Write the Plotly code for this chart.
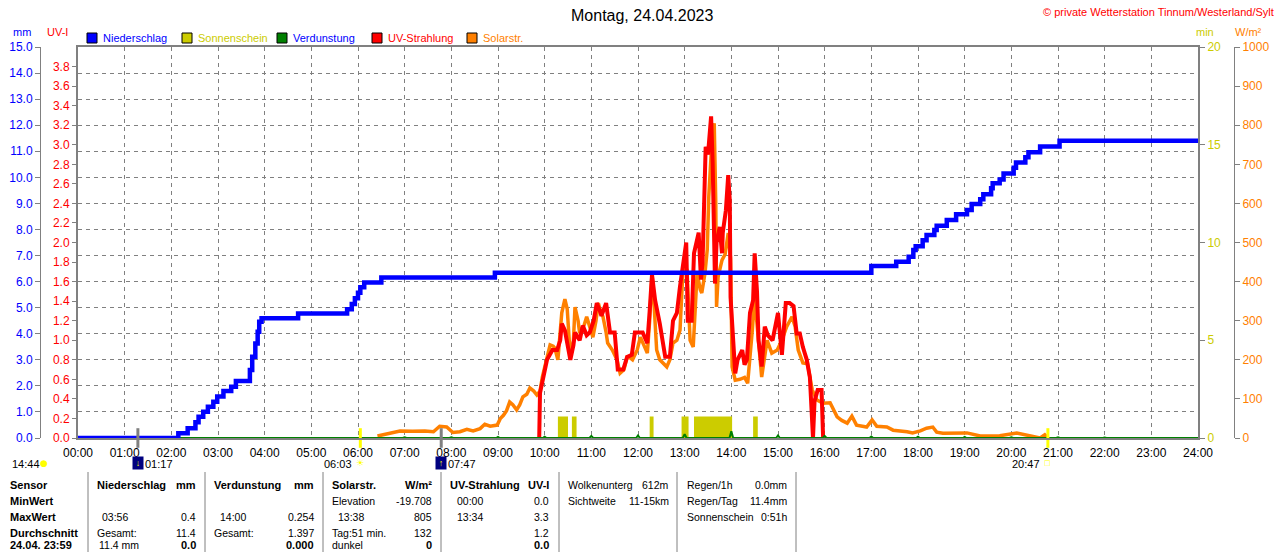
import plotly.graph_objects as go

W, H = 1280, 552


def hrs(t):
    h, m = t.split(":")
    return int(h) + int(m) / 60.0


def px(x):
    return x / W


def py(y):
    return (H - y) / H


# ---------------- data ----------------
# Niederschlag (cumulative, mm)
rain_times = ["00:00", "02:09", "02:21", "02:31", "02:35", "02:41", "02:47", "02:54", "02:59",
              "03:07", "03:17", "03:23", "03:41", "03:44", "03:48", "03:51", "03:53", "03:56",
              "04:43", "05:46", "05:52", "05:56", "06:00", "06:03", "06:08", "06:30", "08:56",
              "17:00", "17:32", "17:48", "17:54", "17:57", "18:06", "18:11", "18:21", "18:24",
              "18:37", "18:49", "19:03", "19:09", "19:20", "19:24", "19:34", "19:36", "19:45",
              "19:50", "20:03", "20:06", "20:18", "20:22", "20:37", "21:02", "24:00"]
rain_mm = [0.0, 0.18, 0.37, 0.6, 0.82, 1.01, 1.2, 1.39, 1.59,
           1.8, 1.97, 2.19, 2.61, 3.12, 3.63, 4.08, 4.46, 4.59,
           4.78, 4.94, 5.14, 5.36, 5.57, 5.78, 5.97, 6.16, 6.34,
           6.6, 6.76, 6.95, 7.21, 7.36, 7.59, 7.79, 7.98, 8.14,
           8.36, 8.58, 8.75, 8.98, 9.16, 9.35, 9.58, 9.77, 9.92,
           10.15, 10.37, 10.57, 10.77, 10.96, 11.18, 11.4, 11.4]

# Sonnenschein (minutes per interval)
sun_start = ["10:17", "10:35", "12:15", "12:56", "13:12", "14:28"]
sun_end = ["10:30", "10:41", "12:20", "13:05", "14:01", "14:34"]
sun_min = [1.1, 1.1, 1.1, 1.1, 1.1, 1.1]

# Verdunstung (mm per hour)
evap_hour = list(range(0, 25))
evap_mm = [0.0, 0.02, 0.02, 0.02, 0.02, 0.02, 0.02, 0.03, 0.03, 0.04, 0.05, 0.08, 0.1,
           0.15, 0.254, 0.1, 0.08, 0.06, 0.05, 0.04, 0.03, 0.03, 0.02, 0.02, 0.02]

# UV-Strahlung (UV-I)
uv_times = ["09:53", "09:54", "09:58", "10:03", "10:10", "10:16", "10:20", "10:22", "10:26", "10:30",
            "10:33", "10:37", "10:39", "10:45", "10:49", "10:54", "10:58", "11:03", "11:07", "11:11",
            "11:13", "11:19", "11:24", "11:30", "11:34", "11:41", "11:46", "11:52", "11:56", "12:06",
            "12:12", "12:15", "12:18", "12:22", "12:28", "12:35", "12:41", "12:45", "12:50", "12:54",
            "12:58", "13:02", "13:04", "13:09", "13:12", "13:16", "13:18", "13:21", "13:23", "13:27",
            "13:30", "13:34", "13:35", "13:36", "13:39", "13:41", "13:45", "13:48", "13:49", "13:53",
            "13:56", "13:58", "13:59", "14:02", "14:05", "14:08", "14:14", "14:17", "14:20", "14:24",
            "14:28", "14:30", "14:33", "14:35", "14:39", "14:43", "14:47", "14:53", "15:00", "15:05",
            "15:10", "15:15", "15:20", "15:24", "15:28", "15:32", "15:37", "15:41", "15:45", "15:47",
            "15:51", "15:56", "15:58"]
uv_values = [0.0, 0.46, 0.61, 0.8, 0.9, 0.9, 1.0, 1.17, 1.1, 0.95,
             0.8, 0.95, 1.08, 1.0, 1.15, 1.05, 1.08, 1.2, 1.38, 1.3,
             1.25, 1.38, 1.08, 1.08, 0.7, 0.7, 0.83, 0.85, 1.08, 1.08,
             0.97, 1.3, 1.67, 1.41, 1.17, 0.83, 0.83, 1.2, 1.28, 1.55,
             1.79, 2.0, 1.2, 1.2, 1.89, 2.06, 2.1, 1.62, 1.8, 2.98,
             2.9, 3.29, 3.05, 2.81, 1.58, 2.0, 2.16, 1.89, 2.1, 2.33,
             2.69, 2.43, 1.44, 1.0, 0.66, 0.8, 0.9, 0.75, 0.8, 1.28,
             1.41, 1.89, 1.5, 1.0, 0.73, 1.14, 1.05, 1.0, 1.28, 0.85,
             1.38, 1.38, 1.35, 1.07, 1.07, 0.93, 0.8, 0.62, 0.0, 0.38,
             0.49, 0.49, 0.0]

# Solarstrahlung (W/m²)
solar_times = ["06:25", "06:41", "06:54", "07:10", "07:26", "07:37", "07:45", "07:54", "08:02", "08:11",
               "08:20", "08:28", "08:37", "08:43", "08:50", "08:59", "09:03", "09:07", "09:11", "09:15",
               "09:19", "09:24", "09:28", "09:32", "09:37", "09:41", "09:46", "09:50", "09:54", "09:57",
               "10:00", "10:03", "10:07", "10:11", "10:13", "10:17", "10:20", "10:22", "10:26", "10:29",
               "10:33", "10:37", "10:39", "10:43", "10:45", "10:51", "10:54", "10:58", "11:02", "11:06",
               "11:09", "11:11", "11:15", "11:19", "11:21", "11:27", "11:33", "11:37", "11:42", "11:46",
               "11:50", "11:53", "11:59", "12:03", "12:08", "12:12", "12:15", "12:18", "12:21", "12:24",
               "12:28", "12:32", "12:37", "12:41", "12:45", "12:50", "12:54", "12:58", "13:03", "13:07",
               "13:11", "13:16", "13:20", "13:22", "13:26", "13:29", "13:31", "13:35", "13:38", "13:40",
               "13:41", "13:43", "13:48", "13:52", "13:56", "13:59", "14:01", "14:05", "14:11", "14:17",
               "14:21", "14:27", "14:30", "14:34", "14:39", "14:46", "14:52", "14:59", "15:05", "15:11",
               "15:18", "15:22", "15:26", "15:32", "15:38", "15:44", "15:50", "15:58", "16:07", "16:16",
               "16:22", "16:29", "16:35", "16:41", "16:54", "17:01", "17:07", "17:20", "17:28", "17:46",
               "17:53", "18:03", "18:11", "18:19", "18:24", "18:32", "19:03", "19:20", "19:45", "20:07",
               "20:24", "20:37", "20:43", "20:47"]
solar_values = [5, 12, 18, 17, 18, 16, 30, 28, 14, 16,
                22, 18, 24, 35, 30, 33, 50, 58, 70, 92,
                85, 72, 85, 105, 112, 128, 120, 110, 120, 156,
                180, 207, 238, 235, 230, 200, 260, 320, 355, 330,
                207, 250, 335, 300, 268, 290, 310, 280, 258, 300,
                345, 330, 310, 270, 243, 225, 200, 166, 175, 207,
                205, 200, 225, 258, 235, 217, 300, 422, 330, 225,
                200, 192, 182, 200, 243, 250, 276, 437, 430, 250,
                233, 422, 380, 371, 420, 481, 617, 760, 805, 600,
                335, 412, 455, 470, 524, 460, 182, 148, 150, 155,
                140, 276, 361, 268, 156, 250, 217, 225, 250, 284,
                310, 285, 225, 192, 190, 123, 97, 89, 90, 54,
                45, 38, 56, 33, 28, 46, 30, 28, 20, 16,
                13, 18, 25, 28, 15, 12, 13, 5, 6, 13,
                5, 0, 8, 0]

# Sun / moon events
sun_events = ["06:03", "20:47"]
moon_events = ["01:17", "07:47"]

hour_ticks = list(range(0, 25))
hour_labels = ["%02d:00" % h for h in hour_ticks]
mm_ticks = list(range(0, 16))
uv_ticks = [i / 5 for i in range(0, 20)]
min_ticks = [0, 5, 10, 15, 20]
wm_ticks = list(range(0, 1001, 100))

# ---------------- colours / fonts ----------------
C_BLUE = "#0000ff"
C_SUN = "#cccc00"
C_GREEN = "#008000"
C_RED = "#ff0000"
C_ORANGE = "#ff8000"
C_GRID = "#808080"
FONT = "Liberation Sans, Arial, sans-serif"

fig = go.Figure()

# Sonnenschein bars (main axis y = min)
s0 = [hrs(t) for t in sun_start]
s1 = [hrs(t) for t in sun_end]
fig.add_trace(go.Bar(x=[(a + b) / 2 for a, b in zip(s0, s1)], y=sun_min,
                     width=[b - a for a, b in zip(s0, s1)],
                     marker=dict(color=C_SUN, line=dict(width=0)),
                     xaxis="x", yaxis="y", showlegend=False, hoverinfo="skip"))

# Solar (y2 = W/m²)
fig.add_trace(go.Scatter(x=[hrs(t) for t in solar_times], y=solar_values, mode="lines",
                         line=dict(color=C_ORANGE, width=3.5), xaxis="x", yaxis="y2",
                         showlegend=False, hoverinfo="skip"))

# UV (y3)
fig.add_trace(go.Scatter(x=[hrs(t) for t in uv_times], y=uv_values, mode="lines",
                         line=dict(color=C_RED, width=4), xaxis="x", yaxis="y3",
                         showlegend=False, hoverinfo="skip"))

# Verdunstung (y4 = mm)
ex, ey = [], []
for h, v in zip(evap_hour, evap_mm):
    if v > 0:
        ex += [h - 0.04, h, h + 0.04]
        ey += [0, v, 0]
    else:
        ex.append(h)
        ey.append(0)
fig.add_trace(go.Scatter(x=ex, y=ey, mode="lines", line=dict(color=C_GREEN, width=2),
                         xaxis="x", yaxis="y4", showlegend=False, hoverinfo="skip",
                         cliponaxis=False))

# Niederschlag (y4 = mm)
fig.add_trace(go.Scatter(x=[hrs(t) for t in rain_times], y=rain_mm, mode="lines",
                         line=dict(color=C_BLUE, width=4.5, shape="hv"), xaxis="x", yaxis="y4",
                         showlegend=False, hoverinfo="skip"))

# sunrise / sunset and moon markers on the time axis
fig.add_trace(go.Scatter(x=[hrs(t) for t in sun_events], y=[0] * len(sun_events), mode="markers",
                         marker=dict(symbol="line-ns", size=14, line=dict(color="#ffff00", width=3)),
                         xaxis="x", yaxis="y4", cliponaxis=False, showlegend=False, hoverinfo="skip"))
fig.add_trace(go.Scatter(x=[hrs(t) for t in moon_events], y=[0] * len(moon_events), mode="markers",
                         marker=dict(symbol="line-ns", size=14, line=dict(color="#808080", width=3)),
                         xaxis="x", yaxis="y4", cliponaxis=False, showlegend=False, hoverinfo="skip"))

dom_x = [px(78), px(1198)]
dom_y = [py(438), py(47)]
tickf = dict(family=FONT, size=12)

fig.update_layout(
    width=W, height=H, autosize=False,
    margin=dict(l=0, r=0, t=0, b=0, pad=0, autoexpand=False),
    paper_bgcolor="white", plot_bgcolor="white",
    barmode="overlay", showlegend=False, hovermode=False,
    font=dict(family=FONT, size=11, color="black"),
    xaxis=dict(domain=dom_x, range=[0, 24], tickvals=hour_ticks, ticktext=hour_labels,
               showgrid=True, gridcolor=C_GRID, griddash="4px,4px", gridwidth=1,
               showline=True, linecolor=C_GRID, linewidth=2, mirror=True, automargin=False,
               ticks="", ticklabelstandoff=3, tickfont=dict(tickf, color="black"),
               zeroline=False, fixedrange=True),
    yaxis=dict(domain=dom_y, range=[0, 20], tickvals=min_ticks, side="right", anchor="x",
               showgrid=False, zeroline=False, showline=True, linecolor=C_GRID, linewidth=2,
               automargin=False,
               ticks="outside", ticklen=5, tickcolor=C_GRID, tickfont=dict(tickf, color=C_SUN)),
    yaxis2=dict(range=[0, 1000], tickvals=wm_ticks, overlaying="y", side="right", anchor="free",
                position=px(1234), showgrid=False, zeroline=False, showline=True, automargin=False,
                linecolor=C_GRID, linewidth=1, ticks="outside", ticklen=5, tickcolor=C_GRID,
                tickfont=dict(tickf, color=C_ORANGE)),
    yaxis3=dict(range=[0, 4], tickvals=uv_ticks, tickformat=".1f", overlaying="y", side="left",
                anchor="x", showgrid=False, zeroline=False, showline=True, linecolor=C_GRID,
                linewidth=2, ticks="outside", ticklen=4, tickcolor=C_GRID, automargin=False,
                tickfont=dict(tickf, color=C_RED)),
    yaxis4=dict(range=[0, 15], tickvals=mm_ticks, tickformat=".1f", overlaying="y", side="left",
                anchor="free", position=px(40), showgrid=True, gridcolor=C_GRID,
                griddash="4px,4px", gridwidth=1, zeroline=False, showline=True, linecolor=C_GRID,
                linewidth=1, ticks="outside", ticklen=5, tickcolor=C_GRID, automargin=False,
                tickfont=dict(tickf, color=C_BLUE)),
)

ann = []
shapes = []


def text(x, y, s, color="black", size=11, anchor="left", bold=False, xref="paper", family=FONT):
    ann.append(dict(x=x if xref != "paper" else px(x), y=py(y), xref=xref, yref="paper",
                    text=("<b>%s</b>" % s) if bold else s, showarrow=False,
                    xanchor=anchor, yanchor="middle",
                    font=dict(family=family, size=size, color=color)))


# title and copyright
text(642, 15, "Montag, 24.04.2023", size=16, anchor="center")
text(1276, 12, "© private Wetterstation Tinnum/Westerland/Sylt", color=C_RED, size=11, anchor="right")

# axis unit labels
text(22, 32, "mm", color=C_BLUE, anchor="center")
text(57, 32, "UV-I", color=C_RED, anchor="center")
text(1205, 32, "min", color=C_SUN, anchor="center")
text(1248, 32, "W/m²", color=C_ORANGE, anchor="center")

# legend
legend_items = [("Niederschlag", C_BLUE), ("Sonnenschein", C_SUN), ("Verdunstung", C_GREEN),
                ("UV-Strahlung", C_RED), ("Solarstr.", C_ORANGE)]
for i, (name, col) in enumerate(legend_items):
    x0 = 87 + 95 * i
    shapes.append(dict(type="rect", xref="paper", yref="paper", x0=px(x0), x1=px(x0 + 10),
                       y0=py(43), y1=py(33), fillcolor=col, line=dict(color="black", width=1)))
    text(x0 + 14, 38, name, color=C_BLUE if col in (C_BLUE, C_GREEN) else col)

# sun / moon row
text(10, 464, "14:44")
text(44, 463, "●", color="#ffff00", size=9, anchor="center", family="DejaVu Sans")
for t, arrow in zip(moon_events, ["↓", "↑"]):
    ann.append(dict(x=hrs(t), y=py(463), xref="x", yref="paper", text=arrow, showarrow=False,
                    xanchor="center", yanchor="middle", bgcolor="#000080", width=8, height=10,
                    font=dict(family=FONT, size=9, color="#ffff00")))
    text(hrs(t) + 0.11, 464, t, xref="x")
text(hrs(sun_events[0]) - 0.13, 464, sun_events[0], anchor="right", xref="x")
ann.append(dict(x=hrs(sun_events[0]), y=py(463), xref="x", yref="paper", text="☀", showarrow=False,
                xanchor="center", yanchor="middle", font=dict(family="DejaVu Sans", size=9, color="#ffff00")))
text(hrs(sun_events[1]) - 0.13, 464, sun_events[1], anchor="right", xref="x")
ann.append(dict(x=hrs(sun_events[1]), y=py(463), xref="x", yref="paper", text="□", showarrow=False,
                xanchor="center", yanchor="middle", font=dict(family="DejaVu Sans", size=7, color="#ffff00")))

# bottom table
TS = 10.5
rows_y = [485, 501, 517, 533, 545]
for r, s in enumerate(["Sensor", "MinWert", "MaxWert", "Durchschnitt", "24.04. 23:59"]):
    text(8, rows_y[r], s, bold=True)
cells = [
    (95, 0, "Niederschlag", "left", True), (198, 0, "mm", "right", True),
    (100, 2, "03:56", "left", False), (198, 2, "0.4", "right", False),
    (95, 3, "Gesamt:", "left", False), (198, 3, "11.4", "right", False),
    (97, 4, "11.4 mm", "left", False), (198, 4, "0.0", "right", True),
    (212, 0, "Verdunstung", "left", True), (316, 0, "mm", "right", True),
    (218, 2, "14:00", "left", False), (316, 2, "0.254", "right", False),
    (212, 3, "Gesamt:", "left", False), (316, 3, "1.397", "right", False),
    (316, 4, "0.000", "right", True),
    (330, 0, "Solarstr.", "left", True), (434, 0, "W/m²", "right", True),
    (330, 1, "Elevation", "left", False), (434, 1, "-19.708", "right", False),
    (336, 2, "13:38", "left", False), (434, 2, "805", "right", False),
    (330, 3, "Tag:51 min.", "left", False), (434, 3, "132", "right", False),
    (330, 4, "dunkel", "left", False), (434, 4, "0", "right", True),
    (448, 0, "UV-Strahlung", "left", True), (551, 0, "UV-I", "right", True),
    (455, 1, "00:00", "left", False), (551, 1, "0.0", "right", False),
    (455, 2, "13:34", "left", False), (551, 2, "3.3", "right", False),
    (551, 3, "1.2", "right", False), (551, 4, "0.0", "right", True),
    (566, 0, "Wolkenunterg", "left", False), (671, 0, "612m", "right", False),
    (566, 1, "Sichtweite", "left", False), (671, 1, "11-15km", "right", False),
    (685, 0, "Regen/1h", "left", False), (789, 0, "0.0mm", "right", False),
    (685, 1, "Regen/Tag", "left", False), (789, 1, "11.4mm", "right", False),
    (685, 2, "Sonnenschein", "left", False), (789, 2, "0:51h", "right", False),
]
for x, r, s, a, b in cells:
    text(x, rows_y[r], s, anchor=a, bold=b, size=11 if b else TS)

for xs in [88, 205, 323, 441, 559, 677, 796]:
    shapes.append(dict(type="line", xref="paper", yref="paper", x0=px(xs), x1=px(xs),
                       y0=py(472), y1=py(552), line=dict(color=C_GRID, width=1)))

fig.update_layout(annotations=ann, shapes=shapes)
fig.write_html("out.html", config={"displayModeBar": False, "staticPlot": True},
               post_script="document.body.style.margin='0';document.body.style.overflow='hidden';")
